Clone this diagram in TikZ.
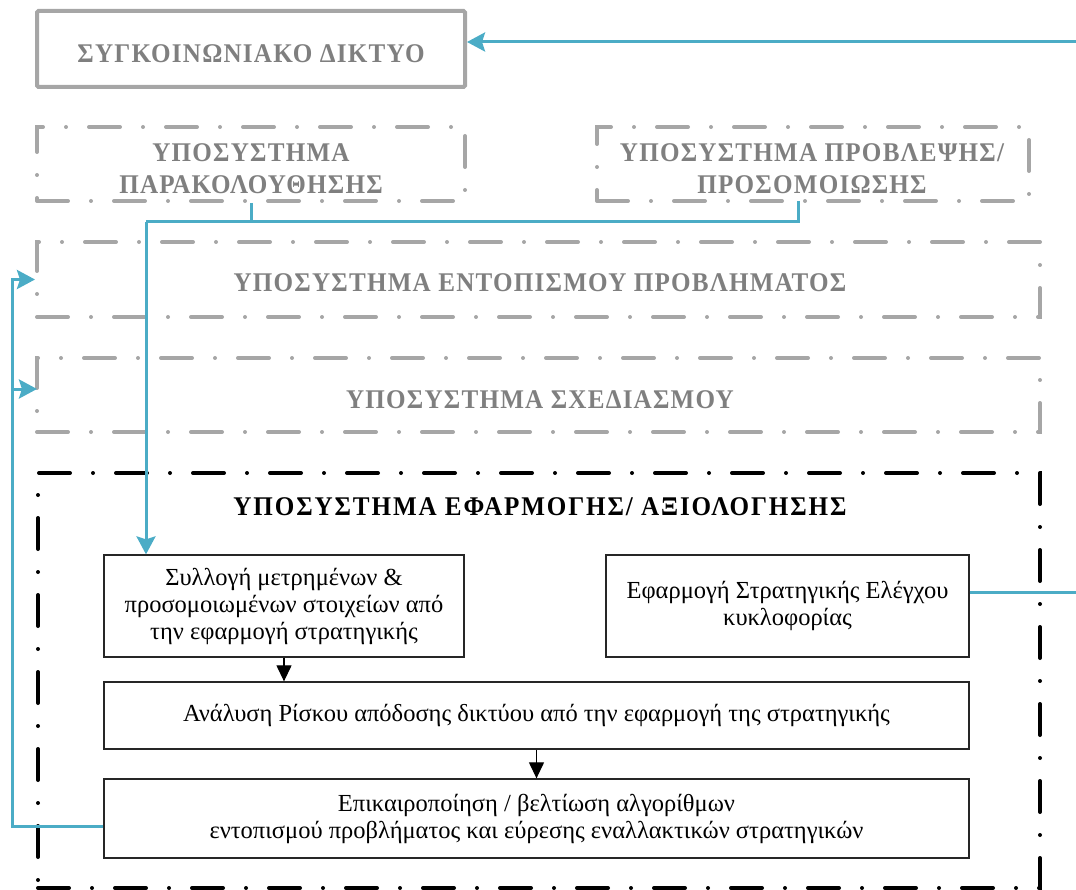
\documentclass[tikz,border=0pt]{standalone}
\usepackage{fontspec}
\setmainfont{Liberation Serif}
\newfontfamily\headfont[LetterSpace=4.5, FakeStretch=0.93]{Liberation Serif}
\newfontfamily\titlefont[LetterSpace=7, FakeStretch=0.93]{Liberation Serif}
\usetikzlibrary{arrows.meta}
\definecolor{framegray}{HTML}{A6A6A6}
\definecolor{headgray}{HTML}{7F7F7F}
\definecolor{linkblue}{HTML}{4BACC6}

\tikzset{
  solidframe/.style={draw=framegray, line width=4pt, rounded corners=1.5pt, inner sep=0pt},
  subframe/.style={draw=framegray, line width=4pt, line cap=round,
    dash pattern=on 31pt off 23pt on 0pt off 23pt, inner sep=0pt},
  evalframe/.style={draw=black, line width=4pt, line cap=round,
    dash pattern=on 31pt off 23pt on 0pt off 23pt, inner sep=0pt},
  headtext/.style={text=headgray, font=\headfont\bfseries\fontsize{27}{32}\selectfont, align=center, inner sep=0pt},
  titletext/.style={text=black, font=\titlefont\bfseries\fontsize{27}{32}\selectfont, align=center, inner sep=0pt},
  stepbox/.style={draw=black!85, line width=1.3pt, inner sep=0pt, align=center,
    font=\fontsize{24.5}{27}\selectfont},
  feedback/.style={draw=linkblue, line width=3pt},
  bluetip/.style={-{Stealth[length=18pt, width=19pt, inset=3pt]}},
  flow/.style={draw=black, line width=1.2pt, -{Triangle[length=16pt, width=15pt]}}
}

\begin{document}
\begin{tikzpicture}[x=1pt, y=-1pt]
\useasboundingbox (0,0) rectangle (1076,890);

% subsystem frames
\node[solidframe, minimum width=428pt, minimum height=76pt] (net) at (251,49) {};
\node[subframe, minimum width=428pt, minimum height=74pt] (mon) at (251,164) {};
\node[subframe, minimum width=432pt, minimum height=74pt] (pred) at (813,164) {};
\node[subframe, minimum width=1003pt, minimum height=75pt] (det) at (538.5,279.5) {};
\node[subframe, minimum width=1003pt, minimum height=74pt] (plan) at (538.5,395) {};
\node[evalframe, minimum width=1002pt, minimum height=415pt] (eval) at (539,680.5) {};

% frame titles
\node[headtext] (netlbl) at (251,54) {ΣΥΓΚΟΙΝΩΝΙΑΚΟ ΔΙΚΤΥΟ};
\node[headtext] (monlbl) at (251,169) {ΥΠΟΣΥΣΤΗΜΑ\\ΠΑΡΑΚΟΛΟΥΘΗΣΗΣ};
\node[headtext] (predlbl) at (812,169) {ΥΠΟΣΥΣΤΗΜΑ ΠΡΟΒΛΕΨΗΣ/\\ΠΡΟΣΟΜΟΙΩΣΗΣ};
\node[headtext] (detlbl) at (540,283) {ΥΠΟΣΥΣΤΗΜΑ ΕΝΤΟΠΙΣΜΟΥ ΠΡΟΒΛΗΜΑΤΟΣ};
\node[headtext] (planlbl) at (540,400) {ΥΠΟΣΥΣΤΗΜΑ ΣΧΕΔΙΑΣΜΟΥ};
\node[titletext] (evallbl) at (540,507) {ΥΠΟΣΥΣΤΗΜΑ ΕΦΑΡΜΟΓΗΣ/ ΑΞΙΟΛΟΓΗΣΗΣ};

% evaluation steps
\node[stepbox, minimum width=360pt, minimum height=102pt] (A) at (284,606)
  {Συλλογή μετρημένων \&\\προσομοιωμένων στοιχείων από\\την εφαρμογή στρατηγικής};
\node[stepbox, minimum width=363pt, minimum height=102pt] (B) at (787.5,606)
  {Εφαρμογή Στρατηγικής Ελέγχου\\κυκλοφορίας};
\node[stepbox, minimum width=865pt, minimum height=67pt] (C) at (536.5,715.5)
  {Ανάλυση Ρίσκου απόδοσης δικτύου από την εφαρμογή της στρατηγικής};
\node[stepbox, minimum width=865pt, minimum height=79pt] (D) at (536.5,818.5)
  {Επικαιροποίηση / βελτίωση αλγορίθμων\\εντοπισμού προβλήματος και εύρεσης εναλλακτικών στρατηγικών};

\draw[flow] (A.south) -- (A.south |- C.north);
\draw[flow] (C.south) -- (D.north);

% feedback connectors
\coordinate (netin) at (1076,42);
\coordinate (bout) at (1076,592);
\coordinate (join) at (146,222);
\coordinate (predtap) at (798,201);
\coordinate (loop) at (12,826);
\coordinate (planin) at (37,389);

\draw[feedback, bluetip] (netin) -- (netin -| net.east);
\draw[feedback] (B.east |- bout) -- (bout);
\draw[feedback] (mon.south) |- (join);
\draw[feedback] (predtap) |- (join);
\draw[feedback, bluetip] (join) -- (join |- A.north);
\draw[feedback, bluetip] (D.west |- loop) -- (loop) |- (det.west);
\draw[feedback, bluetip] (loop |- planin) -- (planin);
\end{tikzpicture}
\end{document}
